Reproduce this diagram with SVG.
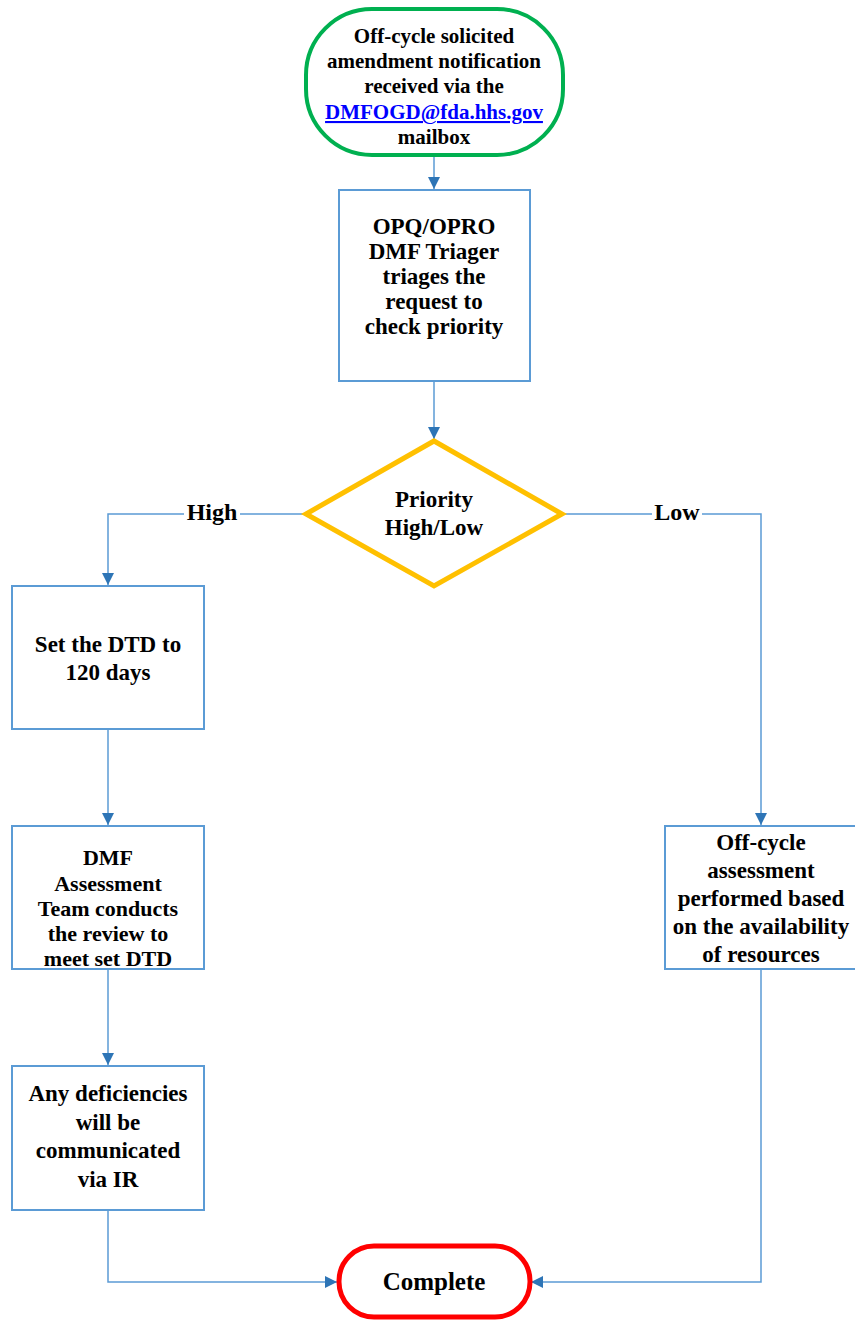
<svg xmlns="http://www.w3.org/2000/svg" width="855" height="1320" viewBox="0 0 855 1320">
<style>
.box{fill:#fff;stroke:#5B9BD5;stroke-width:2}
.t{font-family:"Liberation Serif","Times New Roman",serif;font-weight:bold;fill:#000;text-anchor:middle}
.line{fill:none;stroke:#5B9BD5;stroke-width:1.5}
.lbl{fill:#fff;stroke:none}
</style>
<defs>
<marker id="ah" viewBox="0 0 12 12" refX="12" refY="6" markerWidth="12" markerHeight="12" markerUnits="userSpaceOnUse" orient="auto">
<path d="M0,0 L12,6 L0,12 Z" fill="#2E75B6"/>
</marker>
</defs>
<rect width="855" height="1320" fill="#fff"/>
<g id="connectors">
<path class="line" d="M434,156 V189" marker-end="url(#ah)"/>
<path class="line" d="M434,382 V439" marker-end="url(#ah)"/>
<path class="line" d="M305,514 H108 V585" marker-end="url(#ah)"/>
<path class="line" d="M563,514 H761 V825" marker-end="url(#ah)"/>
<path class="line" d="M108,730 V825" marker-end="url(#ah)"/>
<path class="line" d="M108,970 V1065" marker-end="url(#ah)"/>
<path class="line" d="M108,1211 V1282 H337" marker-end="url(#ah)"/>
<path class="line" d="M761,970 V1282 H531" marker-end="url(#ah)"/>
<rect class="lbl" x="184" y="500" width="56" height="26"/>
<text class="t" x="212" y="520" font-size="24">High</text>
<rect class="lbl" x="652" y="500" width="50" height="26"/>
<text class="t" x="677" y="520" font-size="24">Low</text>
</g>
<g id="start">
<rect x="306" y="9" width="257" height="146" rx="66" ry="66" fill="#fff" stroke="#00B050" stroke-width="4"/>
<text class="t" font-size="21" x="434" y="43">Off-cycle solicited</text>
<text class="t" font-size="21" x="434" y="68">amendment notification</text>
<text class="t" font-size="21" x="434" y="93">received via the</text>
<text class="t" font-size="21" x="434" y="119" fill="#0000FF" style="fill:#0000FF" text-decoration="underline">DMFOGD@fda.hhs.gov</text>
<text class="t" font-size="21" x="434" y="144">mailbox</text>
</g>
<g id="triage">
<rect class="box" x="339" y="190" width="191" height="191"/>
<text class="t" font-size="23" x="434" y="234">OPQ/OPRO</text>
<text class="t" font-size="23" x="434" y="259">DMF Triager</text>
<text class="t" font-size="23" x="434" y="284">triages the</text>
<text class="t" font-size="23" x="434" y="309">request to</text>
<text class="t" font-size="23" x="434" y="334">check priority</text>
</g>
<g id="decision">
<polygon points="434,441 562,514 434,586 306,514" fill="#fff" stroke="#FFC000" stroke-width="5" stroke-linejoin="miter"/>
<text class="t" font-size="23" x="434" y="507">Priority</text>
<text class="t" font-size="23" x="434" y="535">High/Low</text>
</g>
<g id="setdtd">
<rect class="box" x="12" y="586" width="192" height="143"/>
<text class="t" font-size="23" x="108" y="652">Set the DTD to</text>
<text class="t" font-size="23" x="108" y="680">120 days</text>
</g>
<g id="review">
<rect class="box" x="12" y="826" width="192" height="143"/>
<text class="t" font-size="22" x="108" y="865">DMF</text>
<text class="t" font-size="22" x="108" y="891">Assessment</text>
<text class="t" font-size="22" x="108" y="916">Team conducts</text>
<text class="t" font-size="22" x="108" y="941">the review to</text>
<text class="t" font-size="22" x="108" y="966">meet set DTD</text>
</g>
<g id="deficiencies">
<rect class="box" x="12" y="1066" width="192" height="144"/>
<text class="t" font-size="23" x="108" y="1101">Any deficiencies</text>
<text class="t" font-size="23" x="108" y="1130">will be</text>
<text class="t" font-size="23" x="108" y="1158">communicated</text>
<text class="t" font-size="23" x="108" y="1187">via IR</text>
</g>
<g id="offcycle">
<rect class="box" x="665" y="826" width="192" height="143"/>
<text class="t" font-size="23" x="761" y="850">Off-cycle</text>
<text class="t" font-size="23" x="761" y="878">assessment</text>
<text class="t" font-size="23" x="761" y="906">performed based</text>
<text class="t" font-size="23" x="761" y="934">on the availability</text>
<text class="t" font-size="23" x="761" y="962">of resources</text>
</g>
<g id="complete">
<rect x="339" y="1246" width="191" height="71" rx="35" ry="35" fill="#fff" stroke="#FF0000" stroke-width="5"/>
<text class="t" font-size="25" x="434" y="1290">Complete</text>
</g>
</svg>
